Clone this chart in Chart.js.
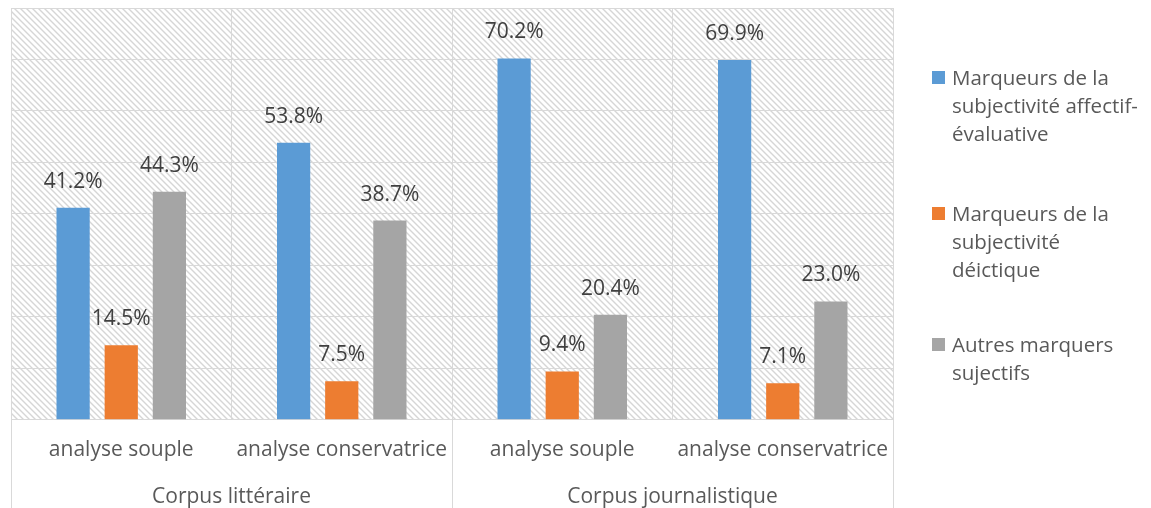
<!DOCTYPE html>
<html lang="fr">
<head>
<meta charset="utf-8">
<script src="https://cdn.jsdelivr.net/npm/chart.js@4/dist/chart.umd.min.js"></script>
<style>
  html, body { margin: 0; padding: 0; background: #ffffff; }
  #wrap { position: relative; width: 1151px; height: 508px; }
  #legend {
    position: absolute; left: 932px; top: 0; width: 219px;
    font-family: "Open Sans", sans-serif; font-size: 20.5px; color: #595959;
    line-height: 28px; white-space: nowrap;
  }
  .item { position: absolute; left: 0; padding-left: 20px; }
  .box { position: absolute; left: 0; top: 8px; width: 13px; height: 13px; }
</style>
</head>
<body>
<div id="wrap">
  <canvas id="markersChart" width="1151" height="508"></canvas>
  <div id="legend"></div>
</div>
<script>
    // ===================================
    // DATA
    // ===================================
    const corpusGroups = ['Corpus littéraire', 'Corpus journalistique'];
    const analyses = ['analyse souple', 'analyse conservatrice', 'analyse souple', 'analyse conservatrice'];
    const seriesNames = [
        ['Marqueurs de la', 'subjectivité affectif-', 'évaluative'],
        ['Marqueurs de la', 'subjectivité', 'déictique'],
        ['Autres marquers', 'sujectifs']
    ];
    const affectifEvaluative = [41.2, 53.8, 70.2, 69.9];
    const deictique = [14.5, 7.5, 9.4, 7.1];
    const autres = [44.3, 38.7, 20.4, 23.0];
    const seriesColors = ['#5b9bd5', '#ed7d31', '#a5a5a5'];
    const legendTops = [63, 199, 330];

    const FONT = '"Open Sans", sans-serif';
    const GRID = '#d9d9d9';

    // --- hatched plot background ---
    function makeHatch() {
        const c = document.createElement('canvas');
        c.width = 6; c.height = 6;
        const g = c.getContext('2d');
        g.fillStyle = '#ffffff';
        g.fillRect(0, 0, 6, 6);
        g.strokeStyle = '#d6d6d6';
        g.lineWidth = 1.4;
        g.beginPath();
        g.moveTo(-1, -1); g.lineTo(7, 7);
        g.moveTo(-1, 5); g.lineTo(1, 7);
        g.moveTo(5, -1); g.lineTo(7, 1);
        g.stroke();
        return c;
    }

    const hatchBackground = {
        id: 'hatchBackground',
        beforeDraw(chart) {
            const { ctx, chartArea: a } = chart;
            ctx.save();
            ctx.fillStyle = ctx.createPattern(makeHatch(), 'repeat');
            ctx.fillRect(a.left, a.top, a.right - a.left, a.bottom - a.top);
            ctx.restore();
        }
    };

    // --- group separators running down through the axis labels ---
    const groupLines = {
        id: 'groupLines',
        afterDraw(chart) {
            const { ctx, chartArea: a, scales: { x } } = chart;
            const half = (x.getPixelForValue(1) - x.getPixelForValue(0)) / 2;
            ctx.save();
            ctx.strokeStyle = GRID;
            ctx.lineWidth = 1;
            [0, 2, 4].forEach(i => {
                const px = Math.round(x.getPixelForValue(i) - half) + 0.5;
                ctx.beginPath();
                ctx.moveTo(px, a.bottom);
                ctx.lineTo(px, chart.height);
                ctx.stroke();
            });
            ctx.restore();
        }
    };

    // --- value labels above bars ---
    const valueLabels = {
        id: 'valueLabels',
        afterDatasetsDraw(chart) {
            const { ctx } = chart;
            ctx.save();
            ctx.font = '21px ' + FONT;
            ctx.fillStyle = '#404040';
            ctx.textAlign = 'center';
            ctx.textBaseline = 'middle';
            chart.data.datasets.forEach((ds, di) => {
                chart.getDatasetMeta(di).data.forEach((bar, i) => {
                    ctx.fillText(ds.data[i].toFixed(1) + '%', bar.x, bar.y - 26);
                });
            });
            ctx.restore();
        }
    };

    // ===================================
    // CHART CONFIG
    // ===================================
    const config = {
        type: 'bar',
        data: {
            labels: analyses,
            datasets: [
                { label: seriesNames[0].join(' '), data: affectifEvaluative, backgroundColor: seriesColors[0] },
                { label: seriesNames[1].join(' '), data: deictique, backgroundColor: seriesColors[1] },
                { label: seriesNames[2].join(' '), data: autres, backgroundColor: seriesColors[2] }
            ]
        },
        options: {
            responsive: false,
            animation: false,
            categoryPercentage: 0.655,
            barPercentage: 0.69,
            layout: { padding: { left: 11, top: 8, right: 258, bottom: 0 } },
            plugins: {
                legend: { display: false },
                tooltip: { enabled: false }
            },
            scales: {
                y: {
                    min: 0,
                    max: 80,
                    ticks: { display: false, stepSize: 10 },
                    grid: { color: GRID, drawTicks: false },
                    border: { display: false }
                },
                x: {
                    grid: { color: GRID, offset: true, drawTicks: false },
                    border: { color: GRID },
                    ticks: {
                        font: { family: FONT, size: 21 },
                        color: '#595959',
                        padding: 18,
                        maxRotation: 0
                    }
                },
                x2: {
                    type: 'category',
                    position: 'bottom',
                    labels: corpusGroups,
                    grid: { display: false, drawTicks: false },
                    border: { display: false },
                    ticks: {
                        font: { family: FONT, size: 21 },
                        color: '#595959',
                        padding: 3,
                        maxRotation: 0
                    },
                    afterFit(scale) { scale.height = 27; }
                }
            }
        },
        plugins: [hatchBackground, groupLines, valueLabels]
    };

    // --- Render Chart ---
    const ctxMarkers = document.getElementById('markersChart').getContext('2d');
    new Chart(ctxMarkers, config);

    // --- Legend (wrapped labels) ---
    const legendEl = document.getElementById('legend');
    seriesNames.forEach((lines, i) => {
        const item = document.createElement('div');
        item.className = 'item';
        item.style.top = legendTops[i] + 'px';
        const box = document.createElement('span');
        box.className = 'box';
        box.style.background = seriesColors[i];
        item.appendChild(box);
        lines.forEach(t => {
            const line = document.createElement('div');
            line.textContent = t;
            item.appendChild(line);
        });
        legendEl.appendChild(item);
    });
</script>
</body>
</html>
